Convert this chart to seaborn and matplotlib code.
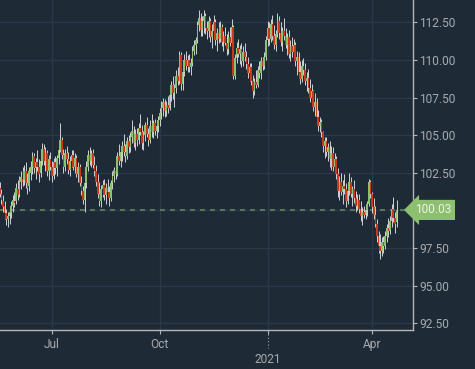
import matplotlib
matplotlib.use("Agg")
import matplotlib.pyplot as plt
import numpy as np
import pandas as pd
import seaborn as sns
from matplotlib.transforms import blended_transform_factory

# ---------------- data (daily OHLC, business days from 2020-05-18) ----------------
start_date = "2020-05-18"
opens = [
    101.5, 101.1, 100.6, 100.3, 99.8,  99.4, 99.6, 99.8, 100.3, 100.6,
    100.6, 101.4, 101.1, 101.9, 102.1,  102.0, 102.6, 101.8, 101.6, 102.5,
    102.9, 103.6, 102.8, 103.2, 102.9,  102.5, 103.3, 104.1, 103.3, 103.8,
    102.6, 103.4, 102.9, 102.3, 103.2,  102.8, 103.5, 104.0, 104.7, 103.7,
    102.9, 103.8, 103.4, 102.7, 103.3,  103.7, 102.9, 103.5, 102.4, 102.9,
    101.8, 101.3, 100.7, 101.8, 102.9,  103.7, 103.3, 103.8, 103.0, 102.6,
    101.9, 101.1, 100.6, 101.4, 101.7,  101.0, 101.5, 101.2, 100.8, 101.8,
    102.3, 102.6, 102.4, 103.6, 103.3,  103.9, 104.3, 103.9, 103.6, 104.6,
    104.2, 104.9, 105.3, 104.5, 105.1,  104.7, 105.5, 105.2, 104.5, 105.0,
    105.7, 105.1, 104.7, 105.6, 105.2,  105.8, 105.3, 105.6, 106.0, 106.5,
    106.8, 107.2, 106.6, 107.0, 106.8,  107.7, 108.3, 107.8, 108.1, 108.9,
    108.6, 110.3, 108.4, 109.2, 110.0,  109.6, 110.0, 109.5, 109.8, 110.6,
    111.0, 111.3, 112.3, 112.8, 112.0,  112.6, 112.9, 112.1, 111.9, 112.6,
    111.5, 111.9, 112.5, 111.3, 111.8,  111.4, 112.2, 111.2, 111.6, 111.1,
    110.7, 111.5, 111.1, 112.2, 108.9,  110.1, 110.8, 110.4, 110.7, 109.9,
    110.5, 110.2, 109.7, 109.1, 109.5,  108.6, 107.9, 108.5, 108.3, 109.3,
    109.1, 109.9, 109.6, 110.2, 111.3,  112.1, 111.4, 112.4, 111.6, 111.0,
    111.7, 112.6, 111.8, 111.2, 111.9,  111.6, 111.0, 111.5, 110.4, 110.9,
    110.5, 111.0, 109.9, 110.2, 109.2,  108.7, 109.6, 109.3, 108.6, 108.8,
    108.1, 107.5, 107.9, 106.9, 107.2,  106.2, 105.6, 105.9, 105.2, 104.3,
    104.6, 103.9, 104.2, 103.4, 103.8,  102.9, 103.4, 102.4, 101.3, 101.9,
    101.2, 101.6, 101.4, 100.6, 101.3,  101.9, 101.1, 101.4, 100.8, 100.3,
    100.7, 100.1, 99.6, 99.9, 99.7,  100.0, 100.4, 101.9, 101.1, 100.2,
    99.7, 99.1, 98.3, 97.6, 97.3,  97.9, 97.6, 98.3, 98.8, 98.6,
    99.3, 100.1, 99.5, 99.2,
]
highs = [
    101.9, 101.4, 101.0, 100.6, 100.1,  99.9, 100.2, 100.6, 101.0, 101.2,
    101.8, 102.0, 102.3, 102.6, 102.9,  103.0, 103.2, 102.5, 102.9, 103.3,
    103.9, 103.8, 103.5, 104.0, 103.4,  103.6, 104.5, 104.4, 104.2, 104.0,
    103.7, 103.9, 103.3, 103.5, 103.6,  103.7, 104.3, 105.8, 104.9, 104.1,
    104.1, 104.3, 103.9, 103.6, 104.0,  104.0, 103.8, 103.7, 103.2, 103.1,
    102.3, 101.6, 102.2, 103.3, 104.0,  104.2, 104.0, 104.1, 103.6, 103.0,
    102.4, 101.9, 101.7, 102.0, 102.1,  101.8, 102.1, 101.6, 102.0, 102.6,
    102.9, 103.4, 103.9, 104.4, 104.1,  104.6, 105.1, 104.4, 104.9, 105.0,
    105.2, 106.0, 105.6, 105.4, 105.5,  105.8, 106.4, 105.7, 105.3, 105.9,
    106.2, 105.5, 106.0, 106.4, 106.0,  106.1, 105.9, 106.3, 106.8, 107.3,
    107.5, 107.4, 107.3, 107.6, 108.0,  108.6, 108.9, 108.4, 109.3, 109.5,
    110.6, 110.5, 109.5, 110.4, 110.6,  110.3, 110.4, 110.1, 110.9, 111.3,
    111.5, 112.6, 113.3, 113.1, 112.9,  113.3, 113.1, 112.6, 112.9, 112.8,
    112.4, 113.0, 112.7, 112.1, 112.5,  112.6, 112.4, 111.9, 112.2, 111.7,
    111.9, 112.2, 112.7, 112.3, 110.4,  111.2, 111.4, 111.0, 111.1, 110.9,
    111.1, 110.6, 110.2, 109.8, 109.8,  109.0, 108.8, 109.3, 109.6, 109.9,
    110.2, 110.1, 110.5, 111.6, 112.6,  112.5, 112.7, 113.0, 112.3, 112.0,
    113.1, 112.9, 112.5, 112.2, 112.8,  112.1, 111.8, 112.0, 111.3, 111.5,
    111.4, 111.2, 110.6, 110.5, 109.9,  110.0, 110.1, 109.8, 109.2, 109.4,
    108.7, 108.4, 108.0, 107.8, 107.5,  106.7, 106.2, 106.1, 105.3, 104.9,
    104.9, 104.5, 104.6, 104.3, 104.2,  103.8, 103.6, 102.8, 102.3, 102.5,
    102.0, 102.4, 101.8, 101.7, 102.5,  102.2, 101.6, 102.0, 101.3, 101.1,
    101.1, 100.6, 100.2, 100.3, 100.2,  100.6, 102.1, 102.0, 101.2, 100.8,
    100.3, 99.4, 98.6, 98.4, 98.2,  98.3, 98.6, 99.1, 99.5, 99.6,
    100.4, 100.9, 99.9, 100.7,
]
lows = [
    100.9, 100.4, 99.9, 99.4, 99.0,  98.9, 99.1, 99.5, 99.9, 100.2,
    100.4, 100.7, 100.9, 101.4, 101.6,  101.7, 101.5, 101.1, 101.3, 102.0,
    102.4, 102.5, 102.1, 102.6, 101.9,  102.2, 103.0, 103.0, 102.6, 102.3,
    102.0, 102.7, 101.9, 102.1, 102.4,  102.3, 103.1, 103.9, 103.4, 102.5,
    102.6, 103.1, 102.4, 102.3, 102.9,  102.7, 102.5, 102.2, 101.9, 101.6,
    101.0, 100.4, 99.9, 101.5, 102.6,  103.0, 102.9, 102.8, 102.3, 101.6,
    100.8, 100.3, 100.2, 100.9, 100.7,  100.4, 100.9, 100.3, 100.6, 101.4,
    101.9, 102.1, 102.3, 103.0, 102.9,  103.3, 103.6, 103.2, 103.4, 103.8,
    103.9, 104.5, 104.2, 104.0, 104.3,  104.4, 105.0, 104.1, 104.0, 104.6,
    104.9, 104.3, 104.5, 104.9, 104.8,  105.0, 104.8, 105.2, 105.6, 106.1,
    106.3, 106.2, 106.3, 106.5, 106.7,  107.3, 107.4, 106.9, 107.8, 108.3,
    108.4, 108.0, 108.0, 108.9, 109.3,  109.2, 109.2, 109.0, 109.6, 110.3,
    110.4, 111.1, 111.9, 111.6, 111.6,  111.8, 111.7, 111.4, 111.5, 111.2,
    110.8, 111.6, 111.0, 110.6, 111.1,  111.2, 110.9, 110.6, 111.0, 110.3,
    110.4, 110.9, 110.8, 108.7, 108.7,  109.8, 110.2, 109.7, 109.5, 109.6,
    109.9, 109.4, 108.8, 108.6, 108.3,  107.5, 107.7, 108.1, 108.2, 108.8,
    108.7, 109.3, 109.4, 110.0, 110.9,  111.0, 111.2, 111.3, 110.7, 110.6,
    111.5, 111.4, 110.9, 110.6, 111.3,  110.8, 110.3, 110.1, 109.9, 110.2,
    110.0, 109.6, 109.0, 108.8, 108.4,  108.5, 109.0, 108.3, 107.9, 107.8,
    107.2, 107.1, 106.6, 106.3, 105.9,  105.3, 105.2, 104.9, 103.9, 103.5,
    103.6, 103.3, 102.9, 102.7, 102.6,  102.5, 102.1, 100.9, 100.7, 101.0,
    100.4, 101.1, 100.2, 100.4, 101.0,  100.9, 100.3, 100.5, 99.9, 100.0,
    99.8, 99.3, 99.0, 99.5, 99.4,  99.6, 100.3, 100.8, 99.8, 99.4,
    98.9, 97.9, 97.2, 96.8, 97.0,  97.2, 97.4, 97.9, 98.2, 98.4,
    98.9, 99.2, 98.5, 98.9,
]
closes = [
    101.1, 100.7, 100.2, 99.8, 99.4,  99.6, 99.9, 100.3, 100.7, 100.5,
    101.5, 101.0, 102.0, 102.2, 101.9,  102.6, 101.8, 101.5, 102.6, 102.9,
    103.6, 102.8, 103.2, 102.9, 102.4,  103.3, 104.1, 103.3, 103.8, 102.6,
    103.4, 102.9, 102.3, 103.2, 102.8,  103.5, 104.0, 104.7, 103.7, 102.9,
    103.8, 103.4, 102.7, 103.3, 103.7,  102.9, 103.5, 102.4, 102.9, 101.8,
    101.3, 100.7, 101.8, 102.9, 103.7,  103.3, 103.8, 103.0, 102.6, 101.9,
    101.1, 100.6, 101.4, 101.7, 101.0,  101.5, 101.2, 100.8, 101.8, 102.3,
    102.7, 102.4, 103.6, 103.3, 103.9,  104.3, 103.9, 103.6, 104.6, 104.2,
    104.9, 105.3, 104.5, 105.1, 104.7,  105.5, 105.2, 104.5, 105.0, 105.7,
    105.1, 104.7, 105.6, 105.2, 105.8,  105.3, 105.6, 106.0, 106.5, 106.8,
    107.2, 106.6, 107.0, 106.8, 107.7,  108.3, 107.8, 108.1, 108.9, 108.6,
    110.3, 108.4, 109.2, 110.0, 109.6,  110.0, 109.5, 109.8, 110.6, 111.0,
    111.3, 112.3, 112.8, 112.0, 112.6,  112.9, 112.1, 111.9, 112.6, 111.5,
    111.9, 112.5, 111.3, 111.8, 111.4,  112.2, 111.2, 111.6, 111.1, 110.7,
    111.5, 111.1, 112.2, 108.9, 110.1,  110.8, 110.4, 110.7, 109.9, 110.5,
    110.2, 109.7, 109.1, 109.5, 108.6,  107.9, 108.5, 108.3, 109.3, 109.1,
    109.9, 109.6, 110.2, 111.3, 112.1,  111.4, 112.4, 111.6, 111.0, 111.7,
    112.6, 111.8, 111.2, 111.9, 111.6,  111.0, 111.5, 110.4, 110.9, 110.5,
    111.0, 109.9, 110.2, 109.2, 108.7,  109.6, 109.3, 108.6, 108.8, 108.1,
    107.5, 107.9, 106.9, 107.2, 106.2,  105.6, 105.9, 105.2, 104.3, 104.6,
    103.9, 104.2, 103.4, 103.8, 102.9,  103.4, 102.4, 101.3, 101.9, 101.2,
    101.6, 101.4, 100.6, 101.3, 101.9,  101.1, 101.4, 100.8, 100.3, 100.7,
    100.1, 99.6, 99.9, 99.7, 100.0,  100.4, 101.9, 101.1, 100.2, 99.7,
    99.1, 98.3, 97.6, 97.3, 97.9,  97.6, 98.3, 98.8, 98.6, 99.3,
    100.1, 99.5, 99.1, 100.03,
]
y_ticks = [92.5, 95.0, 97.5, 100.0, 102.5, 105.0, 107.5, 110.0, 112.5]
x_tick_dates = ["2020-07-01", "2020-10-01", "2021-01-01", "2021-04-01"]
x_tick_labels = ["Jul", "Oct", "", "Apr"]
year_label = "2021"
year_date = "2021-01-01"

# ---------------- style ----------------
BG = "#1e2a36"
GRID = "#2a3947"
SPINE = "#b4b7ba"
TXT = "#a7abb0"
WICK = "#cfd1d2"
GREEN = "#8cbf6e"
RED = "#c9391b"
PRICE_LINE = "#56755a"

sns.set_theme(style="dark", rc={
    "axes.facecolor": BG, "figure.facecolor": BG, "savefig.facecolor": BG,
    "grid.color": GRID, "axes.edgecolor": SPINE,
})
plt.rcParams["font.family"] = ["Roboto", "DejaVu Sans"]

df = pd.DataFrame({"open": opens, "high": highs, "low": lows, "close": closes})
df["date"] = pd.bdate_range(start_date, periods=len(df))
df["idx"] = np.arange(len(df))
df["up"] = df["close"] >= df["open"]

fig = plt.figure(figsize=(4.75, 3.69), dpi=100)
ax = fig.add_axes([0, 1 - 330 / 369, 413 / 475, 330 / 369])

# wicks
ax.vlines(df["idx"], df["low"], df["high"], colors=WICK, lw=0.7, zorder=3)
# bodies
body_bottom = np.minimum(df["open"], df["close"])
body_h = np.maximum((df["close"] - df["open"]).abs(), 0.08)
ax.bar(df["idx"], body_h, bottom=body_bottom, width=1.0,
       color=np.where(df["up"], GREEN, RED), linewidth=0, zorder=4)

# last price line + label
last = closes[-1]
ax.axhline(last, color=PRICE_LINE, lw=1.5, ls=(0, (2.4, 2.4)), zorder=2)
tr = blended_transform_factory(ax.transAxes, ax.transData)
ax.text(1.049, last, f"{last:.2f}", transform=tr, ha="center", va="center",
        color="#eef3ea", fontsize=8.6, zorder=10, clip_on=False,
        bbox=dict(boxstyle="larrow,pad=0.3", fc=GREEN, ec="none"))

# axes ranges (index-based like a trading chart)
tick_idx = np.searchsorted(df["date"].values, pd.to_datetime(x_tick_dates).values)
ax.set_xlim(0.16, 253.07)
ax.set_ylim(92.05, 113.98)

ax.set_xticks(tick_idx)
ax.set_xticklabels(x_tick_labels)
ax.set_yticks(y_ticks)
ax.set_yticklabels(["" if v == 100 else f"{v:.2f}" for v in y_ticks])
ax.yaxis.tick_right()

ax.grid(True, color=GRID, lw=1.0)
ax.set_axisbelow(True)
for s in ["top", "left"]:
    ax.spines[s].set_visible(False)
for s in ["right", "bottom"]:
    ax.spines[s].set_visible(True)
    ax.spines[s].set_color(SPINE)
    ax.spines[s].set_linewidth(1.0)

ax.tick_params(axis="y", which="both", right=True, left=False, length=3, width=0.8,
               color=SPINE, labelcolor=TXT, labelsize=8.6, pad=1.5)
ax.tick_params(axis="x", which="both", bottom=True, length=3, width=0.8,
               color=SPINE, labelcolor=TXT, labelsize=8.6, pad=3)

# year marker below Jan tick
jan_idx = np.searchsorted(df["date"].values, np.datetime64(year_date))
trx = blended_transform_factory(ax.transData, ax.transAxes)
ax.plot([jan_idx, jan_idx], [-0.012, -0.055], transform=trx, color=TXT,
        lw=0.8, ls=(0, (1, 2)), clip_on=False)
ax.text(jan_idx, -0.088, year_label, transform=trx, ha="center", va="center",
        color=TXT, fontsize=8.6, clip_on=False)

fig.savefig("out.png", dpi=100)
